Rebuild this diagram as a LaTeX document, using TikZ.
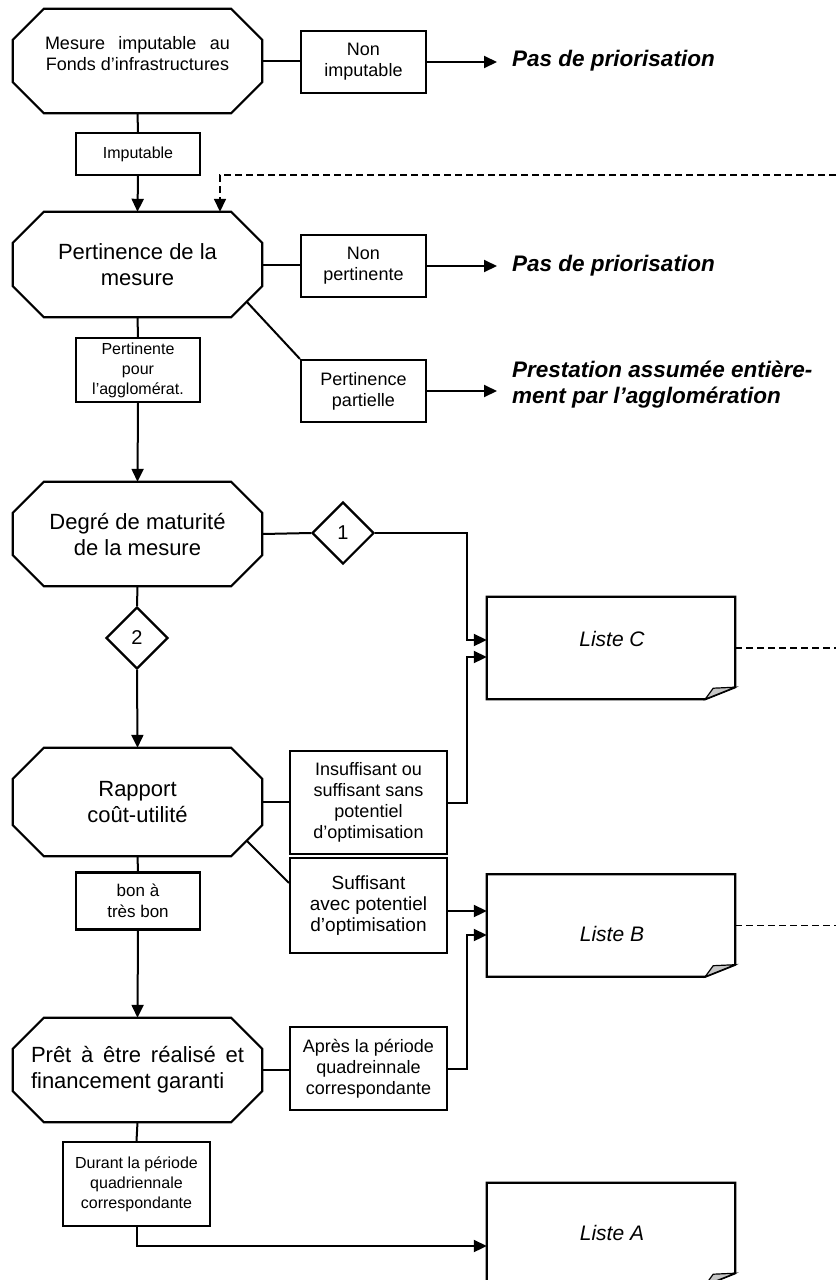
\documentclass[tikz,border=0pt]{standalone}
\usepackage{fontspec}
\setmainfont{Liberation Sans}
\usetikzlibrary{arrows.meta,calc,shapes.geometric}
\newcommand\fsA{\fontsize{22}{26}\selectfont}
\newcommand\fsC{\fontsize{18}{21}\selectfont}
\newcommand\fsD{\fontsize{16}{20}\selectfont}
\newcommand\fsE{\fontsize{19}{21}\selectfont}
\newcommand\fsR{\fontsize{22.5}{26}\selectfont}
\newcommand\fsL{\fontsize{21}{24}\selectfont}
\newcommand\octa[1]{%
  \draw[shp] ([xshift=31pt]#1.north west) -- ([xshift=-31pt]#1.north east) -- ([yshift=-31pt]#1.north east) -- ([yshift=31pt]#1.south east) -- ([xshift=-31pt]#1.south east) -- ([xshift=31pt]#1.south west) -- ([yshift=31pt]#1.south west) -- ([yshift=-31pt]#1.north west) -- cycle;}
\newcommand\docshape[1]{%
  \draw[shp] (#1.north west) -- (#1.north east) -- ([yshift=12pt]#1.south east) -- ([xshift=-30pt]#1.south east) -- (#1.south west) -- cycle;
  \draw[line width=1.2pt, fill=gray!45] ([xshift=-30pt]#1.south east) -- ([xshift=-22pt,yshift=11pt]#1.south east) -- ([yshift=12pt]#1.south east) -- cycle;}
\begin{document}
\begin{tikzpicture}[x=1pt,y=-1pt,
  shp/.style={line width=2.2pt, line join=miter},
  conn/.style={line width=2pt},
  arr/.style={line width=2pt, -{Triangle[length=13pt,width=12pt]}},
  dl/.style={line width=1.6pt, dash pattern=on 7pt off 4pt},
  octnode/.style={minimum width=249pt, minimum height=104pt, inner sep=0pt, align=center, font=\fsA},
  lbox/.style={draw, line width=2.2pt, inner sep=0pt, align=center, font=\fsC},
  dia/.style={diamond, draw, line width=2.2pt, minimum width=62pt, minimum height=62pt, inner sep=0pt, font=\fontsize{20}{22}\selectfont},
  doc/.style={minimum width=248pt, minimum height=102pt, inner sep=0pt},
  doctxt/.style={font=\fsL\itshape, inner sep=0pt},
  res/.style={font=\fsR\bfseries\itshape, anchor=west, align=left, inner sep=0pt}]
\useasboundingbox (0,0) rectangle (836,1280);
\clip (0,0) rectangle (836,1280);
\fill[white] (0,0) rectangle (836,1280);
\coordinate (jx) at (467,0);
\coordinate (rim) at (836,0);
\coordinate (dt) at (836,175);

% nodes
\node[octnode, font=\fsC] (o1) at (137.5,61) {\hbox to 185pt{Mesure\hfill imputable\hfill au}\\Fonds d’infrastructures\rule[-16pt]{0pt}{0pt}};
\node[lbox, minimum width=125pt, minimum height=62pt] (ni) at (363.5,62) {Non\\imputable};
\node[res] (t1) at (512,61) {Pas de priorisation};
\node[lbox, minimum width=124pt, minimum height=42pt, font=\fsD] (imp) at (138,154) {Imputable};
\node[octnode, minimum height=105pt] (o2) at (137.5,264.5) {Pertinence de la\\mesure};
\node[lbox, minimum width=125pt, minimum height=62pt] (np) at (363.5,266) {Non\\pertinente};
\node[res] (t2) at (512,266) {Pas de priorisation};
\node[lbox, minimum width=124pt, minimum height=64pt, font=\fsD] (pa) at (138,370) {Pertinente\\pour\\l’agglomérat.};
\node[lbox, minimum width=125pt, minimum height=62pt] (pp) at (363.5,391) {Pertinence\\partielle};
\node[res] (t3) at (512,385) {Prestation assumée entière-\\ment par l’agglomération};
\node[octnode] (o3) at (137.5,534) {Degré de maturité\\de la mesure};
\node[dia] (d1) at (343,533) {1};
\node[dia] (d2) at (137,638) {2};
\node[doc] (LC) at (611,648) {};
\node[doctxt] (LCt) at (612,639) {Liste C};
\node[octnode, minimum height=108pt] (o4) at (137.5,802) {Rapport\\coût-utilité};
\node[lbox, minimum width=157pt, minimum height=103pt] (ins) at (368.5,802.5) {Insuffisant ou\\suffisant sans\\potentiel\\d’optimisation};
\node[lbox, minimum width=157pt, minimum height=95pt, font=\fsE] (suf) at (368.5,905.5) {Suffisant\\avec potentiel\\d’optimisation};
\node[lbox, minimum width=124pt, minimum height=57pt, font=\fontsize{17}{21}\selectfont] (bon) at (138,901) {bon à\\très bon};
\node[doc] (LB) at (611,925.5) {};
\node[doctxt] (LBt) at (612,934) {Liste B};
\node[octnode] (o5) at (137.5,1070) {\hbox to 213pt{Prêt\hfill à\hfill être\hfill réalisé\hfill et}\\\hbox to 213pt{financement garanti\hfill}};
\node[lbox, minimum width=157pt, minimum height=83pt] (apr) at (368.5,1068.5) {Après la période\\quadreinnale\\correspondante};
\node[lbox, minimum width=147pt, minimum height=84pt, font=\fsD] (dur) at (136.5,1184) {Durant la période\\quadriennale\\correspondante};
\node[doc] (LA) at (611,1234) {};
\node[doctxt] (LAt) at (612,1233) {Liste A};

% shapes
\octa{o1}\octa{o2}\octa{o3}\octa{o4}\octa{o5}
\docshape{LC}\docshape{LB}\docshape{LA}

% connectors
\draw[conn] (o1.east) -- (o1.east -| ni.west);
\draw[arr, shorten >=15pt] (ni.east) -- (ni.east -| t1.west);
\draw[conn] (o1.south) -- (imp.north);
\draw[arr] (imp.south) -- (o2.north);
\draw[dl, -{Triangle[length=13pt,width=12pt]}] (dt) -| ([xshift=82.5pt]o2.north);
\draw[conn] (o2.east) -- (o2.east -| np.west);
\draw[arr, shorten >=15pt] (np.east) -- (np.east -| t2.west);
\draw[conn] ($(o2.south east)+(-15.5pt,15.5pt)$) -- (pp.north west);
\draw[arr, shorten >=15pt] (pp.east) -- (pp.east -| t3.west);
\draw[conn] (o2.south) -- (pa.north);
\draw[arr] (pa.south) -- (o3.north);
\draw[conn] (o3.east) -- (d1.west);
\draw[arr] (d1.east) -- (d1.east -| jx) |- ([yshift=8pt]LC.west);
\draw[conn] (o3.south) -- (d2.north);
\draw[arr] (d2.south) -- (o4.north);
\draw[conn] (o4.east) -- (o4.east -| ins.west);
\draw[arr] (ins.east) -- (ins.east -| jx) |- ([yshift=-9pt]LC.west);
\draw[conn] ($(o4.south east)+(-15.5pt,15.5pt)$) -- ([yshift=-26pt]suf.north west);
\draw[arr] ([yshift=-5.5pt]suf.east) -- ([yshift=-5.5pt]suf.east -| LB.west);
\draw[conn] (o4.south) -- (bon.north);
\draw[arr] (bon.south) -- (o5.north);
\draw[conn] (o5.east) -- (o5.east -| apr.west);
\draw[arr] (apr.east) -- (apr.east -| jx) |- ([yshift=-9.5pt]LB.west);
\draw[conn] (o5.south) -- (dur.north);
\draw[arr] (dur.south) |- ([yshift=-12pt]LA.west);
\draw[dl] (LC.east) -- (LC.east -| rim);
\draw[dl] (LB.east) -- (LB.east -| rim);
\end{tikzpicture}
\end{document}
